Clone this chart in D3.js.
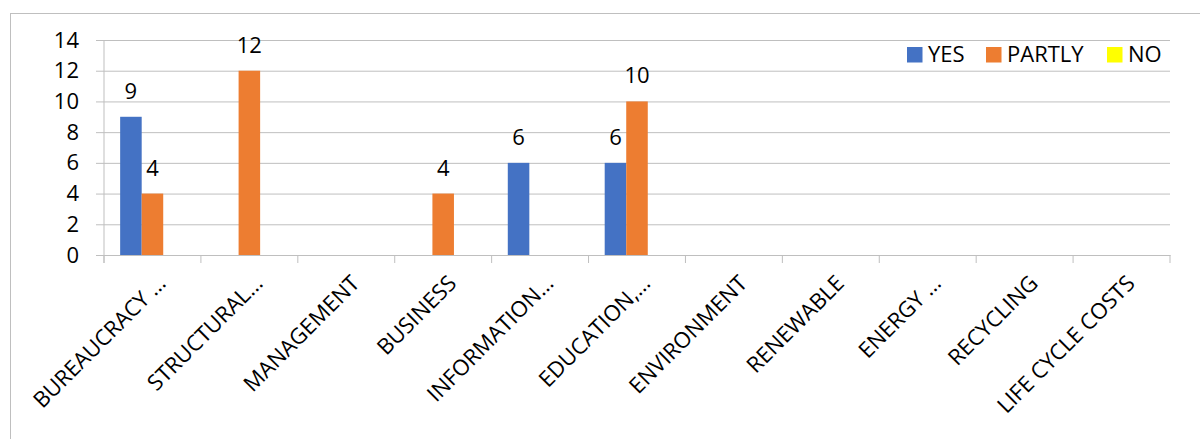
<!DOCTYPE html>
<html>
<head>
<meta charset="utf-8">
<script src="https://cdn.jsdelivr.net/npm/d3@7"></script>
<style>
  body { margin: 0; background: #fff; }
  svg { font-family: "Open Sans", sans-serif; }
</style>
</head>
<body>
<svg id="chart" width="1200" height="439"></svg>
<script>
// data
const categories = ["BUREAUCRACY …", "STRUCTURAL…", "MANAGEMENT", "BUSINESS", "INFORMATION…",
  "EDUCATION,…", "ENVIRONMENT", "RENEWABLE", "ENERGY …", "RECYCLING", "LIFE CYCLE COSTS"];
const seriesNames = ["YES", "PARTLY", "NO"];
const yesValues    = [9, 0, 0, 0, 6, 6, 0, 0, 0, 0, 0];
const partlyValues = [4, 12, 0, 4, 0, 10, 0, 0, 0, 0, 0];
const noValues     = [0, 0, 0, 0, 0, 0, 0, 0, 0, 0, 0];
const yTicks = [0, 2, 4, 6, 8, 10, 12, 14];

const colors = ["#4472C4", "#ED7D31", "#FFFF00"];
const values = [yesValues, partlyValues, noValues];

const svg = d3.select("#chart");

// outer chart frame (runs off the right and bottom edges)
svg.append("rect")
  .attr("x", 10.5).attr("y", 13.5)
  .attr("width", 1300).attr("height", 600)
  .attr("fill", "none").attr("stroke", "#bfbfbf").attr("stroke-width", 1);

const plotLeft = 104, plotRight = 1170, plotTop = 40, plotBottom = 255;

const x = d3.scaleBand().domain(categories).range([plotLeft, plotRight]).padding(0);
// gap width 150%: 3 bars + 1.5 bar of gap per category
const xs = d3.scaleBand().domain(seriesNames)
  .range([0, x.bandwidth()]).paddingInner(0).paddingOuter(0.75);
const y = d3.scaleLinear().domain([0, 14]).range([plotBottom, plotTop]);

// gridlines + y ticks
const yAxis = svg.append("g")
  .attr("transform", `translate(${plotLeft},0)`)
  .call(d3.axisLeft(y).tickValues(yTicks).tickSize(8).tickPadding(17));
yAxis.select(".domain").remove();
yAxis.selectAll(".tick line").attr("stroke", "#bfbfbf")
  .attr("x2", plotRight - plotLeft).attr("x1", -8);
yAxis.selectAll(".tick text").attr("font-size", 22).attr("fill", "#000")
  .attr("font-family", "Open Sans, sans-serif");

// vertical axis line
svg.append("line")
  .attr("x1", plotLeft).attr("x2", plotLeft)
  .attr("y1", plotTop).attr("y2", plotBottom + 8)
  .attr("stroke", "#bfbfbf");

// x axis with category ticks
const xAxis = svg.append("g")
  .attr("transform", `translate(0,${plotBottom})`)
  .call(d3.axisBottom(x).tickSize(0).tickFormat(""));
xAxis.select(".domain").attr("stroke", "#bfbfbf");
const tickPos = categories.map(c => x(c)).concat([plotRight]);
svg.append("g").selectAll("line").data(tickPos).enter().append("line")
  .attr("x1", d => d).attr("x2", d => d)
  .attr("y1", plotBottom).attr("y2", plotBottom + 8)
  .attr("stroke", "#bfbfbf");

// category labels, rotated
svg.append("g").selectAll("text").data(categories).enter().append("text")
  .attr("transform", d => `translate(${x(d) + x.bandwidth() / 2 + 3},${plotBottom + 18}) rotate(-45)`)
  .attr("text-anchor", "end")
  .attr("dy", "0.75em")
  .attr("font-size", 22)
  .text(d => d);

// bars
const bars = svg.append("g");
seriesNames.forEach((s, si) => {
  const g = bars.append("g");
  const rows = categories.map((c, i) => ({ c: c, v: values[si][i] }));
  g.selectAll("rect").data(rows)
    .enter().append("rect")
    .attr("x", d => x(d.c) + xs(s))
    .attr("width", xs.bandwidth())
    .attr("y", d => y(d.v))
    .attr("height", d => y(0) - y(d.v))
    .attr("fill", colors[si]);
  g.selectAll("text").data(rows.filter(d => d.v > 0))
    .enter().append("text")
    .attr("x", d => x(d.c) + xs(s) + xs.bandwidth() / 2)
    .attr("y", d => y(d.v) - 18)
    .attr("text-anchor", "middle")
    .attr("font-size", 22)
    .text(d => d.v);
});

// legend
const legendX = [907, 986, 1107];
const legend = svg.append("g").selectAll("g").data(seriesNames).enter().append("g")
  .attr("transform", (d, i) => `translate(${legendX[i]},47)`);
legend.append("rect").attr("width", 15.5).attr("height", 15.5)
  .attr("fill", (d, i) => colors[i]);
legend.append("text").attr("x", 21).attr("y", 15).attr("font-size", 22).text(d => d);
</script>
</body>
</html>
